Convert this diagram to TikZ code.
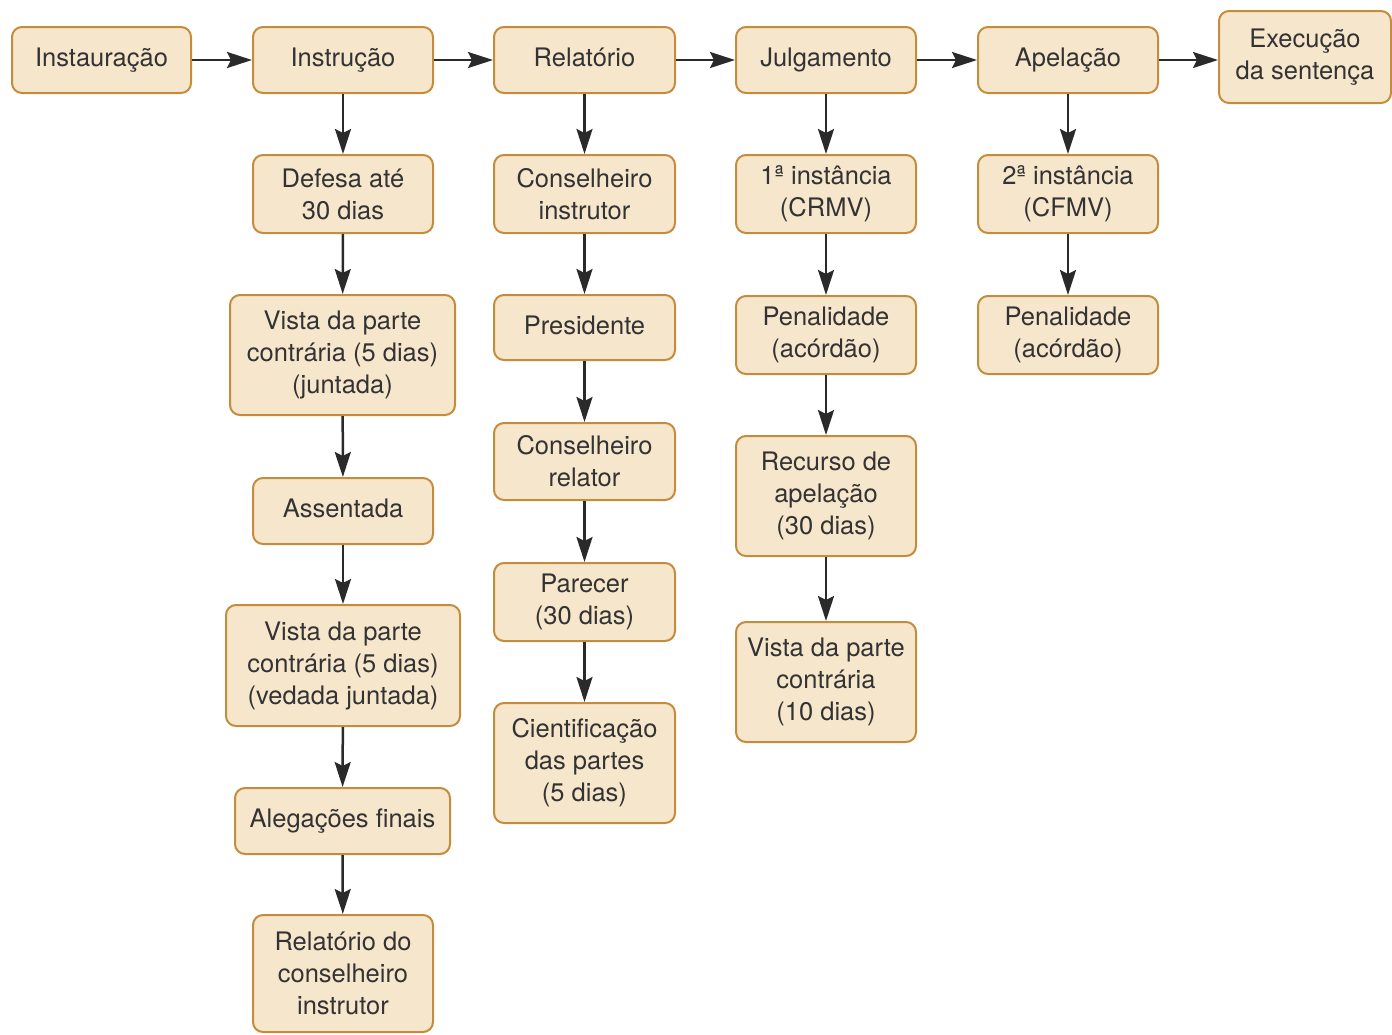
\documentclass[tikz,border=0pt]{standalone}
\usepackage{fontspec}
\setmainfont{TeX Gyre Heros}
\usetikzlibrary{arrows.meta}
\definecolor{boxfill}{HTML}{F6E6CC}
\definecolor{boxline}{HTML}{C48C3C}
\definecolor{txt}{HTML}{333333}
\definecolor{arr}{HTML}{2A2A2A}
\tikzset{
  box/.style={draw=boxline, fill=boxfill, line width=2pt, rounded corners=10pt,
    align=center, text=txt, inner sep=0pt, font=\fontsize{25.5}{32}\selectfont},
  one/.style={text height=19pt, text depth=6pt},
  conn/.style={draw=arr, line width=2.5pt, -{Stealth[length=25pt,width=16pt,inset=4pt]}}
}
\newcommand{\bx}[7][]{% opts, name, x1, y1, x2, y2, text
  \node[box, #1, minimum width={#5-#3}, minimum height={#6-#4}] (#2) at ({(#3+#5)/2},{(#4+#6)/2}) {#7};}
\begin{document}
\begin{tikzpicture}[x=1pt,y=-1pt]
\useasboundingbox (0,0) rectangle (1392,1034);
\bx[one]{inst}{12}{27}{191}{93}{Instauração}
\bx[one]{instr}{253}{27}{433}{93}{Instrução}
\bx[one]{rel}{494}{27}{675}{93}{Relatório}
\bx[one]{julg}{736}{27}{916}{93}{Julgamento}
\bx[one]{apel}{978}{27}{1158}{93}{Apelação}
\bx{exec}{1219}{11}{1391}{103}{Execução\\da sentença}
% column 1
\bx{a1}{253}{155}{433}{233}{Defesa até\\30 dias}
\bx{a2}{230}{295}{455}{415}{Vista da parte\\contrária (5 dias)\\(juntada)}
\bx[one]{a3}{253}{478}{433}{544}{Assentada}
\bx{a4}{226}{605}{460}{726}{Vista da parte\\contrária (5 dias)\\(vedada juntada)}
\bx[one]{a5}{235}{788}{450}{854}{Alegações finais}
\bx{a6}{253}{915}{433}{1032}{Relatório do\\conselheiro\\instrutor}
% column 2
\bx{b1}{494}{155}{675}{233}{Conselheiro\\instrutor}
\bx[one]{b2}{494}{295}{675}{360}{Presidente}
\bx{b3}{494}{423}{675}{500}{Conselheiro\\relator}
\bx{b4}{494}{563}{675}{641}{Parecer\\(30 dias)}
\bx{b5}{494}{703}{675}{823}{Cientificação\\das partes\\(5 dias)}
% column 3
\bx{c1}{736}{155}{916}{233}{1ª instância\\(CRMV)}
\bx{c2}{736}{296}{916}{374}{Penalidade\\(acórdão)}
\bx{c3}{736}{436}{916}{556}{Recurso de\\apelação\\(30 dias)}
\bx{c4}{736}{622}{916}{742}{Vista da parte\\contrária\\(10 dias)}
% column 4
\bx{d1}{978}{155}{1158}{233}{2ª instância\\(CFMV)}
\bx{d2}{978}{296}{1158}{374}{Penalidade\\(acórdão)}
% horizontal
\draw[conn] (inst) -- (instr);
\draw[conn] (instr) -- (rel);
\draw[conn] (rel) -- (julg);
\draw[conn] (julg) -- (apel);
\draw[conn] (apel.east) -- (apel.east -| exec.west);
% verticals
\draw[conn] (instr) -- (a1);
\draw[conn] (a1) -- (a2);
\draw[conn] (a2) -- (a3);
\draw[conn] (a3) -- (a4);
\draw[conn] (a4) -- (a5);
\draw[conn] (a5) -- (a6);
\draw[conn] (rel) -- (b1);
\draw[conn] (b1) -- (b2);
\draw[conn] (b2) -- (b3);
\draw[conn] (b3) -- (b4);
\draw[conn] (b4) -- (b5);
\draw[conn] (julg) -- (c1);
\draw[conn] (c1) -- (c2);
\draw[conn] (c2) -- (c3);
\draw[conn] (c3) -- (c4);
\draw[conn] (apel) -- (d1);
\draw[conn] (d1) -- (d2);
\end{tikzpicture}
\end{document}
